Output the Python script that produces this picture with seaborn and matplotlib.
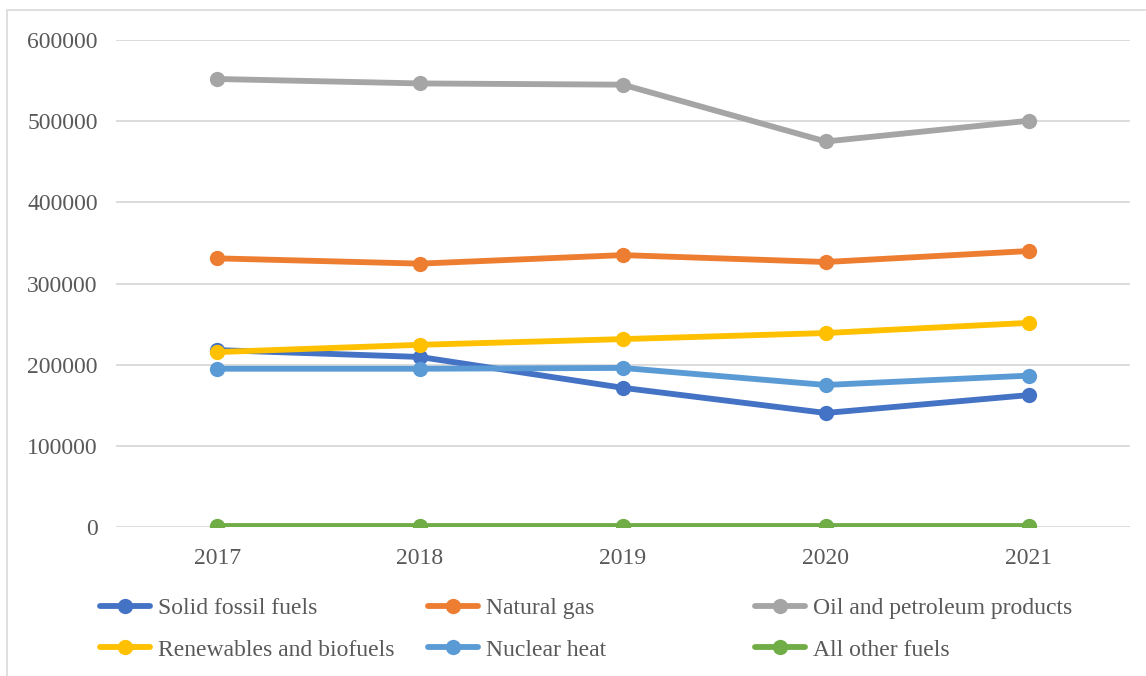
import pandas as pd
import seaborn as sns
import matplotlib.pyplot as plt
from matplotlib.patches import Rectangle

years = ['2017', '2018', '2019', '2020', '2021']
solid_fossil = [218000, 209500, 171500, 140500, 162500]
natural_gas = [331000, 324500, 335000, 326500, 340000]
oil_petroleum = [552000, 546500, 545000, 475000, 500500]
renewables = [215500, 224500, 231500, 239000, 251500]
nuclear = [195000, 195000, 196000, 175000, 186500]
other_fuels = [1000, 1000, 1000, 1000, 1000]

series = {
    'Solid fossil fuels': solid_fossil,
    'Natural gas': natural_gas,
    'Oil and petroleum products': oil_petroleum,
    'Renewables and biofuels': renewables,
    'Nuclear heat': nuclear,
    'All other fuels': other_fuels,
}
colors = ['#4472C4', '#ED7D31', '#A5A5A5', '#FFC000', '#5B9BD5', '#70AD47']

df = pd.DataFrame([
    {'year': y, 'value': v, 'fuel': name}
    for name, vals in series.items() for y, v in zip(years, vals)
])

sns.set_style('white')
plt.rcParams['font.family'] = ['Liberation Serif', 'DejaVu Serif']

fig = plt.figure(figsize=(11.46, 6.76), dpi=100)
ax = fig.add_axes([0.101, 0.2204, 0.885, 0.7204])

lw = 4.2
ms = 11
sns.lineplot(data=df, x='year', y='value', hue='fuel', palette=colors,
             marker='o', markersize=ms, markeredgewidth=0, linewidth=lw,
             ax=ax, legend=False, sort=False)

ax.set_xlim(-0.5, 4.5)
ax.set_ylim(0, 600000)
ax.set_yticks(range(0, 600001, 100000))
ax.set_yticklabels([str(v) for v in range(0, 600001, 100000)])
ax.grid(axis='y', color='#D9D9D9', linewidth=1.3)
ax.set_axisbelow(True)
for s in ax.spines.values():
    s.set_visible(False)
ax.tick_params(axis='both', length=0, labelsize=17, labelcolor='#595959')
ax.tick_params(axis='y', pad=13)
ax.tick_params(axis='x', pad=15)
ax.set_xlabel('')
ax.set_ylabel('')

# legend in three columns like the original
names = list(series.keys())
handles = [plt.Line2D([], [], color=c, linewidth=lw, marker='o', markersize=ms,
                      markeredgewidth=0) for c in colors]
col_x = [0.0873, 0.3735, 0.6588]
for i, x in enumerate(col_x):
    idx = [i, i + 3]
    leg = fig.legend([handles[j] for j in idx], [names[j] for j in idx],
                     loc='center left', bbox_to_anchor=(x, 0.0695),
                     frameon=False, fontsize=17, borderpad=0, borderaxespad=0,
                     handlelength=2.1, handletextpad=0.35, labelspacing=0.85)
    for t in leg.get_texts():
        t.set_color('#595959')

fig.patches.append(Rectangle((7 / 1146, -0.05), 1.1, (676 - 10) / 676 + 0.05,
                             transform=fig.transFigure, fill=False,
                             edgecolor='#D9D9D9', linewidth=1.2))

plt.savefig('out.png', dpi=100)
plt.close()
